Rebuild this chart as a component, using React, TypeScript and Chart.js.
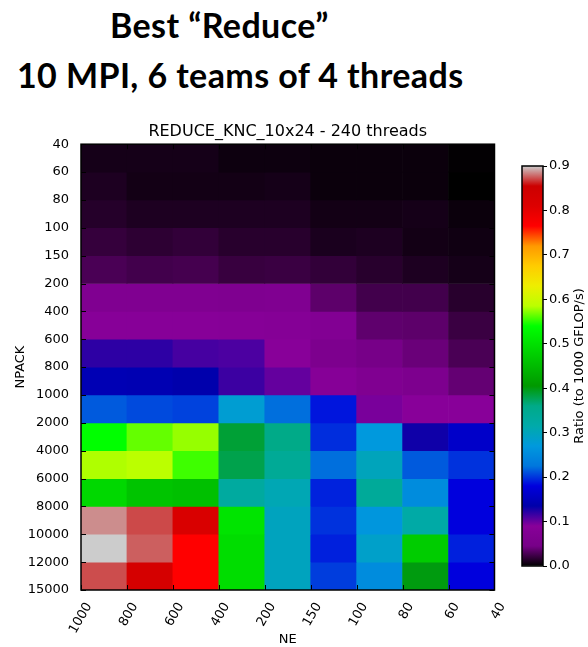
import React, { useEffect, useRef } from 'react';
import { Chart, registerables } from 'chart.js';

Chart.register(...registerables);

// ---------------- data ----------------
const NE_LABELS = ['1000', '800', '600', '400', '200', '150', '100', '80', '60', '40'];
const NPACK_LABELS = ['40', '60', '80', '100', '150', '200', '400', '600', '800', '1000', '2000', '4000', '6000', '8000', '10000', '12000', '15000'];

// Ratio (to 1000 GFLOP/s); one array per NPACK band (top to bottom), columns follow NE bands (left to right)
const ROW_40_60 = [0.008, 0.008, 0.008, 0.005, 0.005, 0.004, 0.004, 0.004, 0.001];
const ROW_60_80 = [0.011, 0.007, 0.007, 0.007, 0.008, 0.004, 0.004, 0.004, 0.0];
const ROW_80_100 = [0.014, 0.011, 0.011, 0.011, 0.011, 0.007, 0.007, 0.008, 0.004];
const ROW_100_150 = [0.02, 0.017, 0.019, 0.015, 0.015, 0.01, 0.011, 0.007, 0.006];
const ROW_150_200 = [0.028, 0.025, 0.026, 0.021, 0.022, 0.019, 0.015, 0.011, 0.008];
const ROW_200_400 = [0.068, 0.068, 0.068, 0.066, 0.068, 0.035, 0.025, 0.025, 0.015];
const ROW_400_600 = [0.088, 0.088, 0.088, 0.085, 0.082, 0.075, 0.036, 0.035, 0.022];
const ROW_600_800 = [0.12, 0.12, 0.112, 0.11, 0.09, 0.06, 0.045, 0.04, 0.028];
const ROW_800_1000 = [0.144, 0.142, 0.137, 0.115, 0.102, 0.085, 0.068, 0.062, 0.038];
const ROW_1000_2000 = [0.214, 0.208, 0.205, 0.28, 0.222, 0.188, 0.095, 0.09, 0.09];
const ROW_2000_4000 = [0.54, 0.564, 0.576, 0.387, 0.36, 0.197, 0.27, 0.13, 0.162];
const ROW_4000_6000 = [0.582, 0.585, 0.555, 0.38, 0.342, 0.222, 0.3, 0.214, 0.199];
const ROW_6000_8000 = [0.488, 0.462, 0.456, 0.33, 0.306, 0.193, 0.337, 0.253, 0.18];
const ROW_8000_10000 = [0.886, 0.871, 0.82, 0.504, 0.297, 0.199, 0.266, 0.32, 0.18];
const ROW_10000_12000 = [0.9, 0.876, 0.765, 0.495, 0.297, 0.192, 0.288, 0.473, 0.192];
const ROW_12000_15000 = [0.872, 0.83, 0.765, 0.495, 0.297, 0.203, 0.253, 0.4, 0.18];

const RATIO_ROWS = [
  ROW_40_60, ROW_60_80, ROW_80_100, ROW_100_150, ROW_150_200, ROW_200_400, ROW_400_600,
  ROW_600_800, ROW_800_1000, ROW_1000_2000, ROW_2000_4000, ROW_4000_6000, ROW_6000_8000,
  ROW_8000_10000, ROW_10000_12000, ROW_12000_15000,
];

const COLOR_MIN = 0;
const COLOR_MAX = 0.9;

// ---------------- colormap (nipy_spectral) ----------------
const NIPY_SPECTRAL: number[][] = [
  [0.0, 0, 0, 0], [0.05, 0.4667, 0, 0.5333], [0.1, 0.5333, 0, 0.6], [0.15, 0, 0, 0.6667],
  [0.2, 0, 0, 0.8667], [0.25, 0, 0.4667, 0.8667], [0.3, 0, 0.6, 0.8667], [0.35, 0, 0.6667, 0.6667],
  [0.4, 0, 0.6667, 0.5333], [0.45, 0, 0.6, 0], [0.5, 0, 0.7333, 0], [0.55, 0, 0.8667, 0],
  [0.6, 0, 1, 0], [0.65, 0.7333, 1, 0], [0.7, 0.9333, 0.9333, 0], [0.75, 1, 0.8, 0],
  [0.8, 1, 0.6, 0], [0.85, 1, 0, 0], [0.9, 0.8667, 0, 0], [0.95, 0.8, 0, 0], [1.0, 0.8, 0.8, 0.8],
];

function rgbAt(t: number): string {
  const x = Math.max(0, Math.min(1, t));
  for (let i = 1; i < NIPY_SPECTRAL.length; i++) {
    const a = NIPY_SPECTRAL[i - 1];
    const b = NIPY_SPECTRAL[i];
    if (x <= b[0]) {
      const f = (x - a[0]) / (b[0] - a[0]);
      const c = [1, 2, 3].map((k) => Math.round(255 * (a[k] + (b[k] - a[k]) * f)));
      return `rgb(${c[0]},${c[1]},${c[2]})`;
    }
  }
  return 'rgb(204,204,204)';
}

function colorFor(v: number): string {
  return rgbAt((v - COLOR_MIN) / (COLOR_MAX - COLOR_MIN));
}

const FONT = 'DejaVu Sans';

// ---------------- plugins ----------------
const heatFramePlugin = {
  id: 'heatFrame',
  afterDatasetsDraw(chart: any) {
    const { ctx, chartArea: a, scales } = chart;
    ctx.save();
    ctx.strokeStyle = '#000';
    ctx.lineWidth = 1;
    const L = 5;
    ctx.beginPath();
    NE_LABELS.forEach((_, i) => {
      const px = Math.round(scales.x.getPixelForValue(i)) + 0.5;
      ctx.moveTo(px, a.bottom); ctx.lineTo(px, a.bottom - L);
      ctx.moveTo(px, a.top); ctx.lineTo(px, a.top + L);
    });
    NPACK_LABELS.forEach((_, i) => {
      const py = Math.round(scales.y.getPixelForValue(i)) + 0.5;
      ctx.moveTo(a.left, py); ctx.lineTo(a.left + L, py);
      ctx.moveTo(a.right, py); ctx.lineTo(a.right - L, py);
    });
    ctx.stroke();
    ctx.lineWidth = 1.5;
    ctx.strokeRect(a.left, a.top, a.right - a.left, a.bottom - a.top);
    ctx.restore();
  },
};

const colorbarPlugin = {
  id: 'cbFrame',
  afterDraw(chart: any) {
    const { ctx, chartArea: a } = chart;
    ctx.save();
    ctx.strokeStyle = '#000';
    ctx.lineWidth = 1.5;
    ctx.strokeRect(a.left, a.top, a.right - a.left, a.bottom - a.top);
    ctx.fillStyle = '#000';
    ctx.font = `13px "${FONT}"`;
    ctx.textAlign = 'center';
    ctx.textBaseline = 'middle';
    ctx.translate(80, (a.top + a.bottom) / 2);
    ctx.rotate(-Math.PI / 2);
    ctx.fillText('Ratio (to 1000 GFLOP/s)', 0, 0);
    ctx.restore();
  },
};

export default function App() {
  const heatRef = useRef<HTMLCanvasElement>(null);
  const cbRef = useRef<HTMLCanvasElement>(null);

  useEffect(() => {
    const tickFont = { family: FONT, size: 13 };

    const datasets = RATIO_ROWS.map((row, r) => ({
      label: `${NPACK_LABELS[r]}-${NPACK_LABELS[r + 1]}`,
      data: row.map((_, c) => ({ x: c + 0.5, y: [r, r + 1] })),
      backgroundColor: row.map((v) => colorFor(v)),
      borderWidth: 0,
      barPercentage: 1,
      categoryPercentage: 1,
      grouped: false,
    }));

    const heat = new Chart(heatRef.current!, {
      type: 'bar',
      data: { datasets } as any,
      options: {
        responsive: false,
        maintainAspectRatio: false,
        animation: false,
        events: [],
        layout: { padding: { left: 0, right: 13, top: 0, bottom: 0 } },
        plugins: {
          legend: { display: false },
          tooltip: { enabled: false },
          title: {
            display: true,
            fullSize: false,
            text: 'REDUCE_KNC_10x24 - 240 threads',
            color: '#000',
            font: { family: FONT, size: 16, weight: 'normal' },
            padding: { top: 12, bottom: 3 },
          },
        },
        scales: {
          x: {
            type: 'linear',
            min: 0,
            max: 9,
            offset: false,
            grid: { display: false, offset: false },
            border: { display: false },
            ticks: {
              stepSize: 1,
              autoSkip: false,
              minRotation: 60,
              maxRotation: 60,
              labelOffset: 8,
              padding: 2,
              color: '#000',
              font: tickFont,
              callback: (v: any) => NE_LABELS[Math.round(Number(v))] ?? '',
            },
            title: { display: true, text: 'NE', color: '#000', font: tickFont, padding: { top: 0, bottom: 0 } },
            afterFit: (s: any) => { s.height = 57; },
          },
          y: {
            type: 'linear',
            min: 0,
            max: 16,
            reverse: true,
            grid: { display: false },
            border: { display: false },
            ticks: {
              stepSize: 1,
              autoSkip: false,
              padding: 4,
              color: '#000',
              font: tickFont,
              callback: (v: any) => NPACK_LABELS[Math.round(Number(v))] ?? '',
            },
            title: { display: true, text: 'NPACK', color: '#000', font: tickFont, padding: { top: 13, bottom: 0 } },
            afterFit: (s: any) => { s.width = 81; },
          },
        },
      } as any,
      plugins: [heatFramePlugin],
    });

    const cb = new Chart(cbRef.current!, {
      type: 'bar',
      data: {
        labels: [''],
        datasets: [
          {
            data: [[COLOR_MIN, COLOR_MAX]],
            borderWidth: 0,
            barPercentage: 1,
            categoryPercentage: 1,
            backgroundColor: (ctx: any) => {
              const chart = ctx.chart;
              const ys = chart.scales && chart.scales.y;
              if (!chart.chartArea || !ys) return '#000';
              const y0 = ys.getPixelForValue(COLOR_MIN);
              const y1 = ys.getPixelForValue(COLOR_MAX);
              const g = chart.ctx.createLinearGradient(0, y0, 0, y1);
              NIPY_SPECTRAL.forEach((s) => g.addColorStop(s[0], rgbAt(s[0])));
              return g;
            },
          },
        ],
      } as any,
      options: {
        responsive: false,
        maintainAspectRatio: false,
        animation: false,
        events: [],
        layout: { padding: { left: 22, top: 26, bottom: 34, right: 0 } },
        plugins: { legend: { display: false }, tooltip: { enabled: false } },
        scales: {
          x: { display: false },
          y: {
            position: 'right',
            min: COLOR_MIN,
            max: COLOR_MAX,
            grid: { drawOnChartArea: false, drawTicks: true, tickLength: 4, color: '#000' },
            border: { display: false },
            ticks: {
              stepSize: 0.1,
              padding: 2,
              color: '#000',
              font: tickFont,
              callback: (v: any) => Number(v).toFixed(1),
            },
            afterFit: (s: any) => { s.width = 45; },
          },
        },
      } as any,
      plugins: [colorbarPlugin],
    });

    return () => {
      heat.destroy();
      cb.destroy();
    };
  }, []);

  const headStyle: React.CSSProperties = {
    position: 'absolute',
    fontFamily: 'Lato, "Open Sans", sans-serif',
    fontWeight: 700,
    fontSize: 34,
    lineHeight: '34px',
    letterSpacing: '0.4px',
    whiteSpace: 'nowrap',
    color: '#000',
  };

  return (
    <div style={{ position: 'fixed', left: 0, top: 0, width: 588, height: 647, background: '#fff', overflow: 'hidden' }}>
      <div style={{ ...headStyle, left: 110, top: 8 }}>Best “Reduce”</div>
      <div style={{ ...headStyle, left: 17, top: 58 }}>10 MPI, 6 teams of 4 threads</div>
      <canvas ref={heatRef} width={510} height={537} style={{ position: 'absolute', left: 0, top: 110 }} />
      <canvas ref={cbRef} width={88} height={460} style={{ position: 'absolute', left: 500, top: 140 }} />
    </div>
  );
}
